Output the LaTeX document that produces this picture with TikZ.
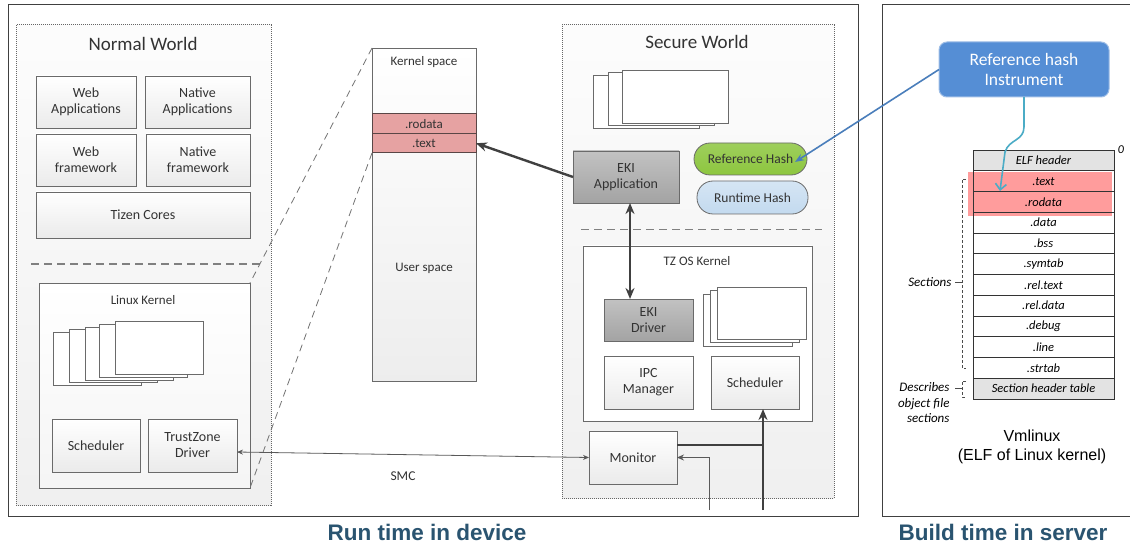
\documentclass[tikz,border=0pt]{standalone}
\usepackage{fontspec}
\setmainfont{Carlito}
\newfontfamily\arialf{Liberation Sans}
\usetikzlibrary{arrows.meta,calc}
\definecolor{bordergray}{HTML}{6A6A6A}
\definecolor{panelgray}{HTML}{404040}
\definecolor{pinkfill}{HTML}{E6A2A2}
\definecolor{pinkdark}{HTML}{5A4646}
\definecolor{greenfill}{HTML}{8DC63F}
\definecolor{bluefill}{HTML}{C3DAEF}
\definecolor{instrblue}{HTML}{558ED5}
\definecolor{instrborder}{HTML}{9DBDE6}
\definecolor{linkblue}{HTML}{4A7EBB}
\definecolor{tealc}{HTML}{4BACC6}
\definecolor{labelblue}{HTML}{2A5470}
\definecolor{elfpink}{HTML}{FF9C9C}
\definecolor{txt}{HTML}{333333}
\begin{document}
\begin{tikzpicture}[x=1pt,y=-1pt,
  box/.style={draw=bordergray, line width=0.8pt, top color=white, bottom color=black!8,
    align=center, inner sep=1pt, outer sep=0pt, anchor=north west,
    font=\fontsize{14}{16}\selectfont, text=txt},
  ekibox/.style={box, top color=black!24, bottom color=black!36},
  pagebox/.style={draw=bordergray, line width=0.8pt, fill=white, outer sep=0pt, anchor=north west,
    minimum width=#1},
  world/.style={draw=black!60, densely dotted, line width=1pt, top color=black!1, bottom color=black!6,
    outer sep=0pt, anchor=north west},
  panel/.style={draw=panelgray, line width=1pt, fill=white, outer sep=0pt, anchor=north west},
  sepline/.style={draw=black!50, dash pattern=on 8pt off 5pt, line width=1pt},
  zoomline/.style={draw=black!55, dash pattern=on 7pt off 5pt, line width=0.8pt},
  heavy/.style={draw=black!75, line width=2.4pt},
  heavytip/.style={-{Stealth[length=11pt,width=9pt]}},
  thinline/.style={draw=black!65, line width=0.8pt},
  title/.style={font=\fontsize{19}{22}\selectfont, text=txt},
  subtitle/.style={font=\fontsize{13}{15}\selectfont, text=txt},
  elfrow/.style={draw=black!80, line width=0.8pt, minimum width=141, minimum height=20.75,
    anchor=north west, outer sep=0pt, inner sep=0pt, font=\fontsize{12.5}{13}\selectfont\itshape},
  bottomlabel/.style={font=\arialf\bfseries\fontsize{22.5}{26}\selectfont, text=labelblue}
]
\useasboundingbox (0,0) rectangle (1130,548);
\fill[white] (0,0) rectangle (1130,548);

% panels
\node[panel, minimum width=850, minimum height=511] (panelL) at (8,5) {};
\node[panel, minimum width=248, minimum height=511] (panelR) at (882,5) {};

% ---------------- Normal world ----------------
\node[world, minimum width=255, minimum height=480] (nw) at (16,25) {};
\node[title] (nwt) at (143,44) {Normal World};
\node[box, minimum width=100, minimum height=52] (webapp) at (36,76) {Web\\Applications};
\node[box, minimum width=105, minimum height=52] (natapp) at (145,76) {Native\\Applications};
\node[box, minimum width=100, minimum height=52] (webfw) at (36,134) {Web\\framework};
\node[box, minimum width=104, minimum height=52] (natfw) at (146,134) {Native\\framework};
\node[box, minimum width=214, minimum height=46] (tizen) at (36,192) {Tizen Cores};
\draw[sepline] (31,264) -- (260,264);
\node[box, minimum width=211, minimum height=205, top color=white, bottom color=black!4] (linux) at (39,283) {};
\node[subtitle] (linuxt) at (143,300) {Linux Kernel};
\node[pagebox=88, minimum height=53] (lp1) at (53,332) {};
\node[pagebox=88, minimum height=53] (lp2) at (69,329) {};
\node[pagebox=88, minimum height=53] (lp3) at (85,327) {};
\node[pagebox=88, minimum height=53] (lp4) at (99,324) {};
\node[pagebox=88, minimum height=53] (lp5) at (115,321) {};
\node[box, minimum width=88, minimum height=53] (sched1) at (52,419) {Scheduler};
\node[box, minimum width=89, minimum height=53] (tzdrv) at (148,419) {TrustZone\\Driver};

% ---------------- Memory column ----------------
\node[box, minimum width=104, minimum height=333, top color=white, bottom color=black!7] (ks) at (372,48) {};
\node[subtitle] (kst) at (424,62) {Kernel space};
\node[box, minimum width=104, minimum height=19.5, fill=pinkfill, top color=pinkfill, bottom color=pinkfill,
  draw=pinkdark, line width=1pt, font=\fontsize{13}{14}\selectfont] (rodata) at (372,114) {.rodata};
\node[box, minimum width=104, minimum height=19.5, fill=pinkfill, top color=pinkfill, bottom color=pinkfill,
  draw=pinkdark, line width=1pt, font=\fontsize{13}{14}\selectfont] (text) at (372,133.5) {.text};
\node[subtitle] (us) at (424,268) {User space};
\draw[zoomline] (ks.north west) -- (linux.north east);
\draw[zoomline] (text.south west) -- (linux.south east);

% ---------------- Secure world ----------------
\node[world, minimum width=272, minimum height=473] (sw) at (562,25) {};
\node[title] (swt) at (697,42) {Secure World};
\node[pagebox=106, minimum height=53] (sp1) at (593,75) {};
\node[pagebox=106, minimum height=53] (sp2) at (608,72) {};
\node[pagebox=106, minimum height=53] (sp3) at (622,70) {};
\node[ekibox, minimum width=106, minimum height=52] (ekiapp) at (573,151) {EKI\\Application};
\node[box, minimum width=113, minimum height=32, rounded corners=16pt, top color=greenfill!85!white,
  bottom color=greenfill, font=\fontsize{13.5}{15}\selectfont] (refhash) at (694,143) {Reference Hash};
\node[box, minimum width=111, minimum height=33, rounded corners=16pt, top color=bluefill!70!white,
  bottom color=bluefill, font=\fontsize{13.5}{15}\selectfont] (runhash) at (697,181) {Runtime Hash};
\draw[sepline] (581,230) -- (822,230);
\node[box, minimum width=229, minimum height=175, top color=white, bottom color=white] (tzos) at (583,246) {};
\node[subtitle] (tzost) at (697,261) {TZ OS Kernel};
\node[ekibox, minimum width=89, minimum height=42] (ekidrv) at (604,299) {EKI\\Driver};
\node[pagebox=89, minimum height=52] (tp1) at (703,294) {};
\node[pagebox=89, minimum height=52] (tp2) at (710,290) {};
\node[pagebox=89, minimum height=52] (tp3) at (717,287) {};
\node[box, minimum width=89, minimum height=53] (ipc) at (604,356) {IPC\\Manager};
\node[box, minimum width=88, minimum height=53] (sched2) at (711,356) {Scheduler};
\node[box, minimum width=88, minimum height=53] (monitor) at (589,431) {Monitor};

% connectors in device
\draw[thinline, {Stealth[length=6pt,width=5pt]}-{Stealth[length=6pt,width=5pt]}]
  ([yshift=-6.5pt]tzdrv.east) -- (monitor.west);
\node[font=\fontsize{13.5}{15}\selectfont, text=txt] (smc) at (403,476) {SMC};
\draw[heavy, heavytip] (ekiapp.west) -- (text.east);
\draw[heavy, {Stealth[length=11pt,width=9pt]}-{Stealth[length=11pt,width=9pt]}]
  ([xshift=4pt]ekiapp.south) -- ([xshift=4pt]ekiapp.south |- ekidrv.north);
\coordinate (inB) at (763,510);
\coordinate (mj) at ([yshift=12.5pt]monitor.east);
\draw[heavy] (mj) -- (mj -| inB);
\draw[heavy, heavytip] (inB) -- (inB |- sched2.south);
\coordinate (inA) at (709,510);
\draw[thinline, -{Stealth[length=7pt,width=6pt]}] (inA) |- (monitor.east);

% ---------------- Build time panel ----------------
\node[draw=instrborder, line width=1pt, fill=instrblue, rounded corners=8pt, minimum width=170,
  minimum height=55, anchor=north west, outer sep=0pt, align=center, text=white,
  font=\fontsize{17.5}{20}\selectfont] (instr) at (939,42) {Reference hash\\Instrument};
\draw[linkblue, line width=1.6pt, -{Stealth[length=9pt,width=7pt]}]
  (instr.west) -- ([xshift=-12pt,yshift=-3pt]refhash.east);

% ELF table
\fill[elfpink] (968,172) rectangle (1112,216);
\foreach \t [count=\i from 0] in {ELF header,.text,.rodata,.data,.bss,.symtab,.rel.text,.rel.data,.debug,.line,.strtab,Section header table}{
  \ifnum\i=0
    \node[elfrow, fill=black!11] (elf\i) at (973,150+\i*20.75) {\t};
  \else\ifnum\i=11
    \node[elfrow, fill=black!11] (elf\i) at (973,150+\i*20.75) {\t};
  \else
    \node[elfrow] (elf\i) at (973,150+\i*20.75) {\t};
  \fi\fi
}
\node[font=\fontsize{12}{13}\selectfont\itshape] (zero) at (1121,150) {0};
\draw[black!70, line width=0.8pt, dash pattern=on 3pt off 2pt] (966,179) -- (962,179) -- (962,368) -- (966,368);
\node[anchor=east, font=\fontsize{13}{14}\selectfont\itshape] (sect) at (955,282) {Sections};
\draw[black!70, line width=0.8pt] (955,282) -- (962,282);
\draw[black!70, line width=0.8pt, dash pattern=on 3pt off 2pt] (966,381) -- (962,381) -- (962,397) -- (966,397);
\node[anchor=east, align=right, font=\fontsize{13}{15.5}\selectfont\itshape] (desc) at (953,403)
  {Describes\\object file\\sections};
\draw[black!70, line width=0.8pt] (955,388) -- (962,388);
\coordinate (tealend) at (1000,191);
\draw[tealc, line width=1.6pt, -{Straight Barb[length=6pt,width=11pt]}]
  (instr.south) -- (1024,127) .. controls (1024,141) and (1009,139) .. (1005,152) -- (tealend);

\node[align=center, font=\arialf\fontsize{16}{19.5}\selectfont] (vml) at (1032,447) {Vmlinux\\(ELF of Linux kernel)};

% bottom labels
\node[bottomlabel] (runlbl) at (427,532) {Run time in device};
\node[bottomlabel] (buildlbl) at (1003,532) {Build time in server};
\end{tikzpicture}
\end{document}
